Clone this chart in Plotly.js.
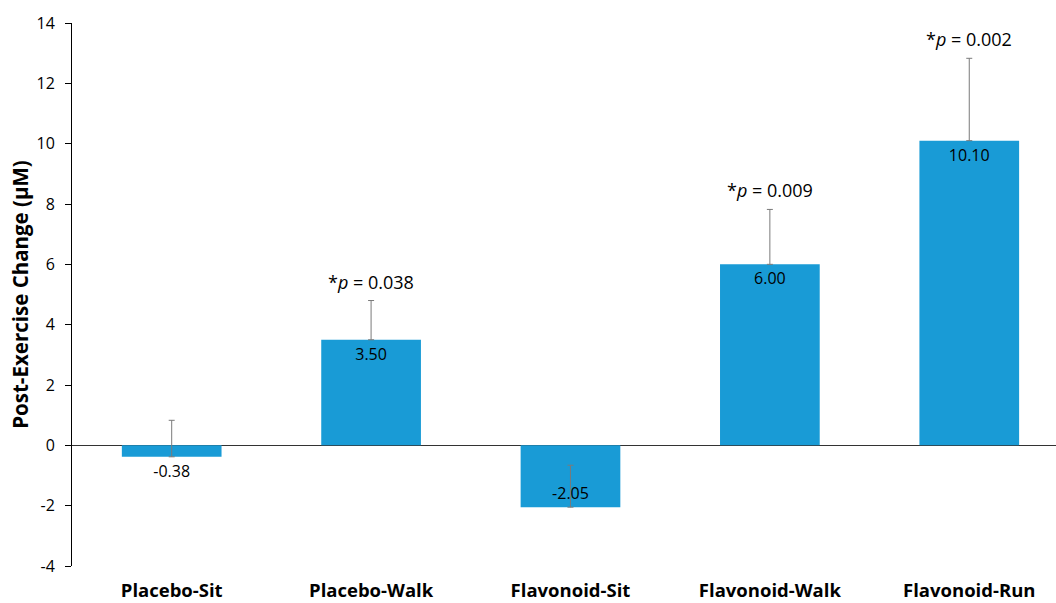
<!DOCTYPE html>
<html>
<head>
<meta charset="utf-8">
<script src="https://cdn.plot.ly/plotly-3.0.1.min.js"></script>
<style>html,body{margin:0;padding:0;background:#fff;}#chart{width:1056px;height:603px;}</style>
</head>
<body>
<div id="chart"></div>
<script>
const categories = ["Placebo-Sit", "Placebo-Walk", "Flavonoid-Sit", "Flavonoid-Walk", "Flavonoid-Run"];
const values = [-0.38, 3.50, -2.05, 6.00, 10.10];
const errors = [1.21, 1.30, 1.39, 1.82, 2.73];
const pLabels = ["", "*<i>p</i> = 0.038", "", "*<i>p</i> = 0.009", "*<i>p</i> = 0.002"];
const yTicks = [-4, -2, 0, 2, 4, 6, 8, 10, 12, 14];

const font = "'Open Sans', 'Noto Sans', sans-serif";

const trace = {
  type: "bar",
  x: categories,
  y: values,
  width: 0.5,
  marker: {color: "#199bd6"},
  text: values.map(v => v.toFixed(2)),
  textposition: values.map(v => Math.abs(v) < 1 ? "outside" : "inside"),
  insidetextanchor: "end",
  textangle: 0,
  constraintext: "none",
  cliponaxis: false,
  textfont: {family: font, size: 16, color: "#000"},
  insidetextfont: {family: font, size: 16, color: "#000"},
  outsidetextfont: {family: font, size: 16, color: "#000"},
  error_y: {
    type: "data",
    symmetric: false,
    array: errors,
    arrayminus: errors.map(() => 0),
    color: "#7a7a7a",
    thickness: 1,
    width: 3
  },
  hoverinfo: "none"
};

const annotations = categories.map((c, i) => ({
  x: c, y: values[i] + errors[i],
  text: pLabels[i],
  showarrow: false,
  xref: "x", yref: "y",
  yanchor: "bottom",
  yshift: 5,
  font: {family: font, size: 18, color: "#000"}
})).filter(a => a.text);

const layout = {
  width: 1056, height: 603,
  margin: {l: 72, r: 0, t: 23, b: 37},
  paper_bgcolor: "#fff", plot_bgcolor: "#fff",
  showlegend: false,
  bargap: 0.5,
  xaxis: {
    type: "category",
    range: [-0.5, 4.435],
    showline: false, showgrid: false, zeroline: false,
    ticks: "",
    tickfont: {family: font, size: 18.5, color: "#000", weight: "bold"},
    ticklabelstandoff: 11
  },
  yaxis: {
    range: [-4, 14],
    tickvals: yTicks,
    ticktext: yTicks.map(String),
    showgrid: false,
    showline: true, linecolor: "#000", linewidth: 1,
    ticks: "outside", ticklen: 6, tickcolor: "#000",
    zeroline: true, zerolinecolor: "#333", zerolinewidth: 1.4,
    tickfont: {family: font, size: 16, color: "#000"},
    ticklabelstandoff: 7,
    title: {text: "Post-Exercise Change (μM)", font: {family: font, size: 20.5, color: "#000", weight: "bold"}, standoff: 2}
  },
  annotations: annotations
};

Plotly.newPlot("chart", [trace], layout, {displayModeBar: false, staticPlot: true});
</script>
</body>
</html>
